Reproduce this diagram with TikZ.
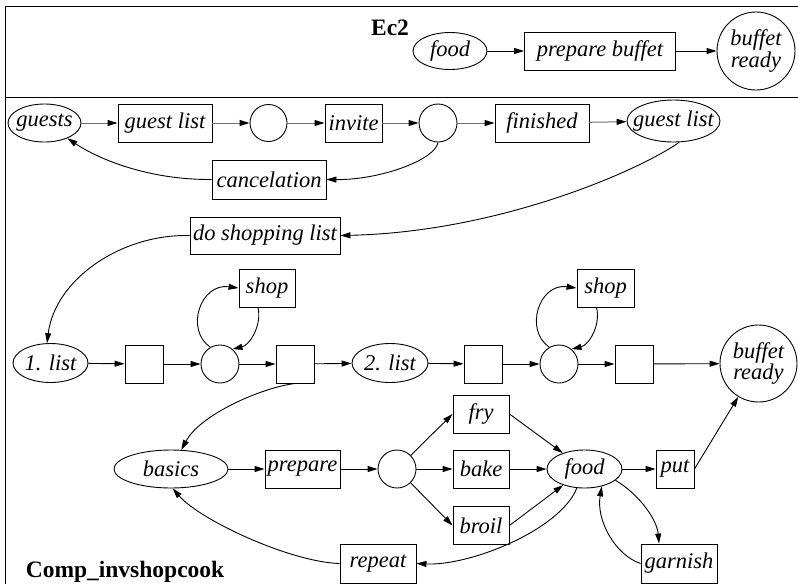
\documentclass[tikz,border=0pt]{standalone}
\usepackage{fontspec}
\setmainfont{Liberation Serif}[ItalicFont={Liberation Serif Italic},BoldFont={Liberation Serif Bold}]
\usetikzlibrary{shapes.geometric,arrows.meta}
\newcommand\zw[1]{\makebox[0pt]{#1}}
\definecolor{linegray}{HTML}{707070}
\begin{document}
\begin{tikzpicture}[x=1pt,y=-1pt,
  every node/.style={font=\fontsize{22.5}{20}\selectfont\itshape, line width=0.9pt},
  tbox/.style={draw, rectangle, minimum height=38pt, inner sep=0pt},
  place/.style={draw, circle, minimum size=38pt, inner sep=0pt},
  ell/.style={draw, ellipse, minimum height=38pt, inner sep=0pt},
  arr/.style={-{Triangle[length=10pt,width=6pt]}, line width=0.9pt},
  grayarr/.style={draw=linegray, -{Triangle[length=10pt,width=6pt,color=black]}, line width=1pt},
  title/.style={font=\fontsize{23.5}{24}\selectfont\bfseries},
  frame/.style={line width=0.9pt}
]
\useasboundingbox (0,0) rectangle (798,584);
\draw[frame] (798,6) -- (5,6) -- (5,584);
\draw[frame] (5,97) -- (798,97);

% Ec2 panel
\node[title] (ec2) at (390,28) {Ec2};
\node[ell, minimum width=74pt, minimum height=37pt] (food1) at (450,51) {\zw{food}};
\node[tbox, minimum width=151pt] (pb) at (600,51) {prepare buffet};
\node[place, minimum size=78pt, align=center] (br1) at (756,51) {buffet\\ready};
\draw[arr] (food1) -- (pb);
\draw[arr] (pb) -- (br1);

% row 1
\node[ell, minimum width=73pt] (guests) at (44.5,123) {\zw{guests}};
\node[tbox, minimum width=94pt] (gl) at (165,123) {guest list};
\node[place, minimum size=37pt] (p1) at (268.5,123) {};
\node[tbox, minimum width=57pt] (invite) at (353.5,123) {invite};
\node[place] (p2) at (438,123) {};
\node[tbox, minimum width=94pt] (finished) at (542,123) {finished};
\node[ell, minimum width=93pt, minimum height=42pt] (gl2) at (673.5,121) {\zw{guest list}};
\node[tbox, minimum width=114pt, minimum height=39pt] (cancel) at (269,179.5) {cancelation};
\draw[grayarr] (guests) -- (gl);
\draw[grayarr] (gl) -- (p1);
\draw[grayarr] (p1) -- (invite);
\draw[grayarr] (invite) -- (p2);
\draw[grayarr] (p2) -- (finished);
\draw[grayarr] (finished) -- (gl2);
\draw[arr] (p2.south) .. controls (435,160) and (380,180) .. (cancel.east);
\draw[arr] (cancel.west) .. controls (150,180) and (100,160) .. (guests);

% shopping list
\node[tbox, minimum width=150pt, minimum height=37pt] (dsl) at (265,235.5) {do shopping list};
\draw[arr] (gl2.-75) .. controls (640,170) and (500,232) .. (dsl.east);

% row 3
\node[ell, minimum width=75pt, minimum height=39pt] (list1) at (50.5,363) {\zw{1. list}};
\node[tbox, minimum width=38pt] (t1) at (144,364) {};
\node[place] (p3) at (220,364) {};
\node[tbox, minimum width=38pt] (t2) at (295,364) {};
\node[tbox, minimum width=56pt] (shop1) at (267,288) {shop};
\node[ell, minimum width=76pt, minimum height=39pt] (list2) at (390,363) {\zw{2. list}};
\node[tbox, minimum width=38pt] (t3) at (483,364) {};
\node[place] (p4) at (559,364) {};
\node[tbox, minimum width=38pt] (t4) at (634,364) {};
\node[tbox, minimum width=57pt] (shop2) at (605.5,288) {shop};
\node[place, minimum size=77pt, align=center] (br2) at (758.5,363.5) {buffet\\ready};
\draw[arr] (dsl.west) .. controls (120,234) and (55,280) .. (list1.100);
\draw[arr] (list1) -- (t1);
\draw[arr] (t1) -- (p3);
\draw[arr] (p3) -- (t2);
\draw[arr] (t2) -- (list2);
\draw[arr] (list2) -- (t3);
\draw[arr] (t3) -- (p4);
\draw[arr] (p4) -- (t4);
\draw[arr] (t4) -- (br2);
\draw[arr] (p3.120) .. controls (185,330) and (200,283) .. (shop1.west);
\draw[arr] ([xshift=-9pt]shop1.south) .. controls (262,325) and (250,345) .. (p3.50);
\draw[arr] (p4.120) .. controls (524,330) and (539,283) .. (shop2.west);
\draw[arr] ([xshift=-9pt]shop2.south) .. controls (601,325) and (589,345) .. (p4.50);

% row 4
\node[ell, minimum width=114pt] (basics) at (171,469) {\zw{basics}};
\node[tbox, minimum width=75pt] (prepare) at (302.5,469) {prepare};
\node[place] (p5) at (397,469) {};
\node[tbox, minimum width=56pt] (fry) at (481,414) {fry};
\node[tbox, minimum width=56pt] (bake) at (481,469) {bake};
\node[tbox, minimum width=56pt] (broil) at (481,525.5) {broil};
\node[ell, minimum width=75pt] (food2) at (584.5,469) {\zw{food}};
\node[tbox, minimum width=38pt] (put) at (675,469) {put};
\node[tbox, minimum width=76pt, minimum height=39pt] (garnish) at (679,563.5) {garnish};
\node[tbox, minimum width=76pt, minimum height=39pt] (repeat) at (378,563.5) {repeat};
\draw[arr] (t2.south) .. controls (260,388) and (200,415) .. (basics);
\draw[arr] (basics) -- (prepare);
\draw[arr] (prepare) -- (p5);
\draw[arr] (p5) -- (fry.west);
\draw[arr] (p5) -- (bake);
\draw[arr] (p5) -- (broil.west);
\draw[arr] (fry.east) -- (food2);
\draw[arr] (bake) -- (food2);
\draw[arr] (broil.east) -- (food2);
\draw[arr] (food2) -- (put);
\draw[arr] (put.east) -- (br2);
\draw[arr] (food2) .. controls (560,530) and (470,566) .. (repeat.east);
\draw[arr] (repeat.west) .. controls (290,562) and (200,520) .. (basics.-85);
\draw[arr] (food2.-20) .. controls (640,495) and (657,520) .. ([xshift=-20pt]garnish.north);
\draw[arr] (garnish.west) .. controls (615,555) and (596,520) .. (food2.-45);

\node[title, anchor=base west] (comp) at (22,577) {Comp\_invshopcook};
\end{tikzpicture}
\end{document}
